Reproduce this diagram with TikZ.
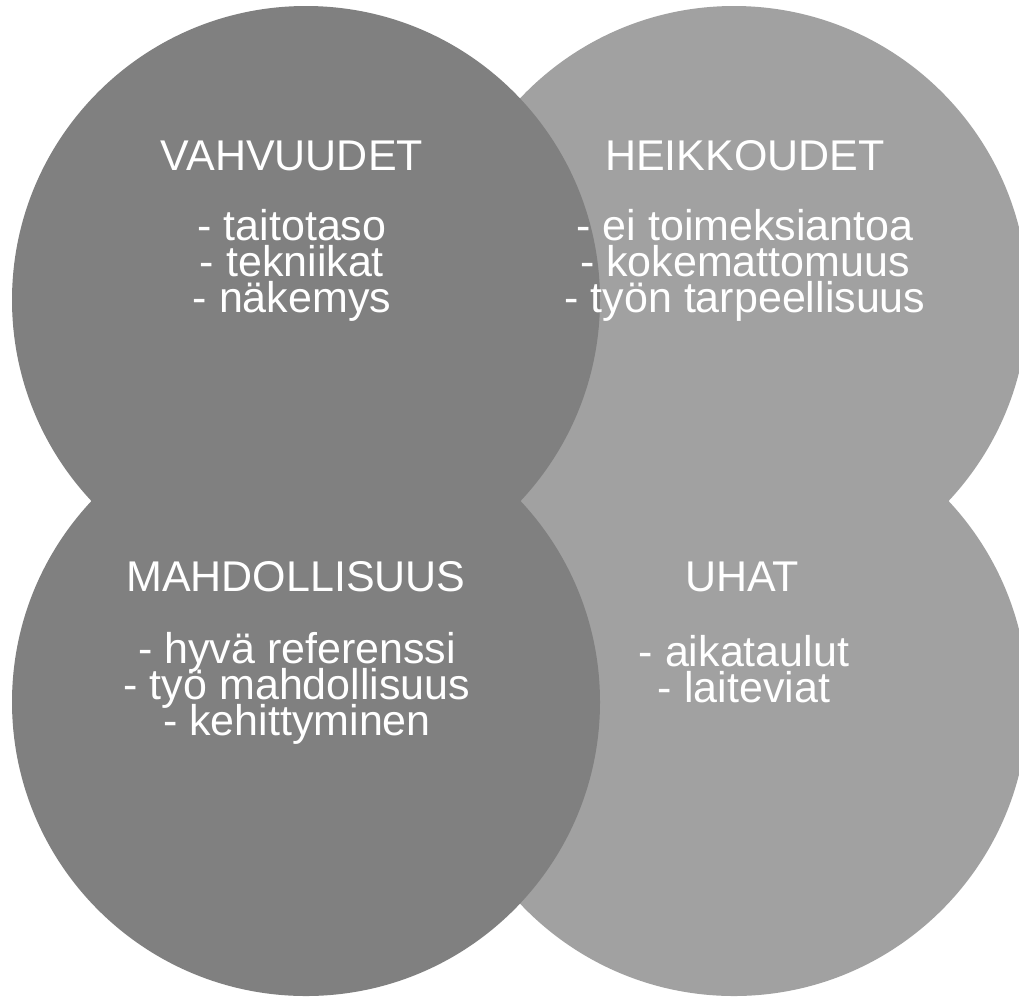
\documentclass[tikz,border=0pt]{standalone}
\usepackage{fontspec}
\setmainfont{Liberation Sans}
\definecolor{darkgrey}{HTML}{808080}
\definecolor{lightgrey}{HTML}{A1A1A1}
\newcommand{\itemfont}{\fontsize{43}{36}\selectfont\setlength{\lineskiplimit}{-100pt}\relax}

\begin{document}
\begin{tikzpicture}[x=1pt,y=-1pt,
    title/.style={text=white, inner sep=0pt, font=\fontsize{43}{43}\selectfont},
    items/.style={text=white, inner sep=0pt, align=center, font=\itemfont}]
    \def\rad{294};
    \def\xa{306};
    \def\xb{734};
    \def\ya{300};
    \def\yb{702};
    \clip (0,0) rectangle (1019,997);
    \fill[white] (0,0) rectangle (1019,997);
    \fill[lightgrey] (\xb,\ya) circle (\rad pt);
    \fill[lightgrey] (\xb,\yb) circle (\rad pt);
    \fill[darkgrey] (\xa,\ya) circle (\rad pt);
    \fill[darkgrey] (\xa,\yb) circle (\rad pt);
    \node[title] (VH) at (292,156) {VAHVUUDET};
    \node[items] (VL) at (292,265) {- taitotaso\\- tekniikat\\- näkemys};
    \node[title] (HH) at (745,156) {HEIKKOUDET};
    \node[items] (HL) at (745,265) {- ei toimeksiantoa\\- kokemattomuus\\- työn tarpeellisuus};
    \node[title] (MH) at (296,577) {MAHDOLLISUUS};
    \node[items] (ML) at (297,688) {- hyvä referenssi\\- työ mahdollisuus\\- kehittyminen};
    \node[title] (UH) at (742,577) {UHAT};
    \node[items] (UL) at (744,669) {- aikataulut\\- laiteviat};
\end{tikzpicture}
\end{document}
